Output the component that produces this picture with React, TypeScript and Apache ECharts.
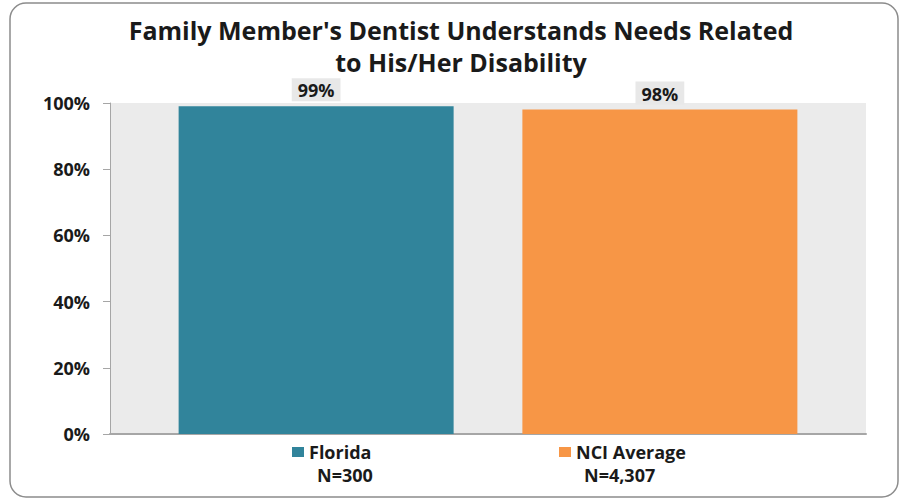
import React, { useEffect, useRef } from "react";
import * as echarts from "echarts";

const seriesNames = ["Florida", "NCI Average"];
const sampleSizes = ["N=300", "N=4,307"];
const values = [99, 98];
const colors = ["#31849B", "#F79646"];
const yTicks = [0, 20, 40, 60, 80, 100];
const titleLines = ["Family Member's Dentist Understands Needs Related", "to His/Her Disability"];

export default function App() {
  const ref = useRef<HTMLDivElement>(null);
  useEffect(() => {
    document.body.style.margin = "0";
    if (!ref.current) return;
    const chart = echarts.init(ref.current, null, { renderer: "svg" });
    const font = "'Open Sans', 'Noto Sans', sans-serif";
    chart.setOption({
      animation: false,
      backgroundColor: "#ffffff",
      textStyle: { fontFamily: font },
      title: titleLines.map((t, i) => ({
        text: t,
        left: 461,
        top: i === 0 ? 15 : 47,
        padding: 0,
        textAlign: "center",
        textStyle: {
          fontFamily: font,
          fontSize: 25,
          fontWeight: "bold",
          color: "#1a1a1a",
          lineHeight: 30,
        },
      })),
      grid: { left: 110, right: 34, top: 103, bottom: 64, containLabel: false },
      xAxis: {
        type: "category",
        data: [""],
        axisLine: { lineStyle: { color: "#a6a6a6", width: 2 } },
        axisTick: { show: false },
        axisLabel: { show: false },
        splitArea: { show: true, areaStyle: { color: ["#ebebeb"] } },
      },
      yAxis: {
        type: "value",
        min: 0,
        max: 100,
        interval: 20,
        axisLine: { show: true, lineStyle: { color: "#a6a6a6", width: 1 } },
        axisTick: { show: true, length: 7, lineStyle: { color: "#a6a6a6" } },
        splitLine: { lineStyle: { color: "#a6a6a6", width: 1 } },
        axisLabel: {
          margin: 20,
          fontFamily: font,
          fontSize: 18,
          fontWeight: "bold",
          color: "#1a1a1a",
          formatter: (v: number) => (yTicks.includes(v) ? v + "%" : ""),
        },
      },
      legend: seriesNames.map((name, i) => ({
        data: [name],
        left: i === 0 ? 292 : 559,
        top: 443,
        padding: 0,
        icon: "rect",
        itemWidth: 12,
        itemHeight: 10,
        textStyle: { fontFamily: font, fontSize: 18, fontWeight: "bold", color: "#1a1a1a" },
        selectedMode: false,
      })),
      series: seriesNames.map((name, i) => ({
        name,
        type: "bar",
        data: [values[i]],
        barWidth: 275,
        barGap: "25%",
        itemStyle: { color: colors[i] },
        label: {
          show: true,
          position: "top",
          distance: 5,
          formatter: "{c}%",
          fontFamily: font,
          fontSize: 18,
          fontWeight: "bold",
          color: "#1a1a1a",
          backgroundColor: "#e8e8e8",
          padding: [3, 6, 2, 6],
        },
      })),
      graphic: [
        {
          type: "rect",
          shape: { x: 10, y: 3, width: 888, height: 494, r: 16 },
          style: { fill: "none", stroke: "#8c8c8c", lineWidth: 1.5 },
          silent: true,
          z: 100,
        },
        ...sampleSizes.map((t, i) => ({
          type: "text",
          left: i === 0 ? 317 : 584,
          top: 466,
          style: {
            text: t,
            fontFamily: font,
            fontSize: 18,
            fontWeight: "bold",
            fill: "#1a1a1a",
          },
        })),
      ],
    });
    return () => chart.dispose();
  }, []);
  return <div ref={ref} style={{ width: 900, height: 498 }} />;
}
